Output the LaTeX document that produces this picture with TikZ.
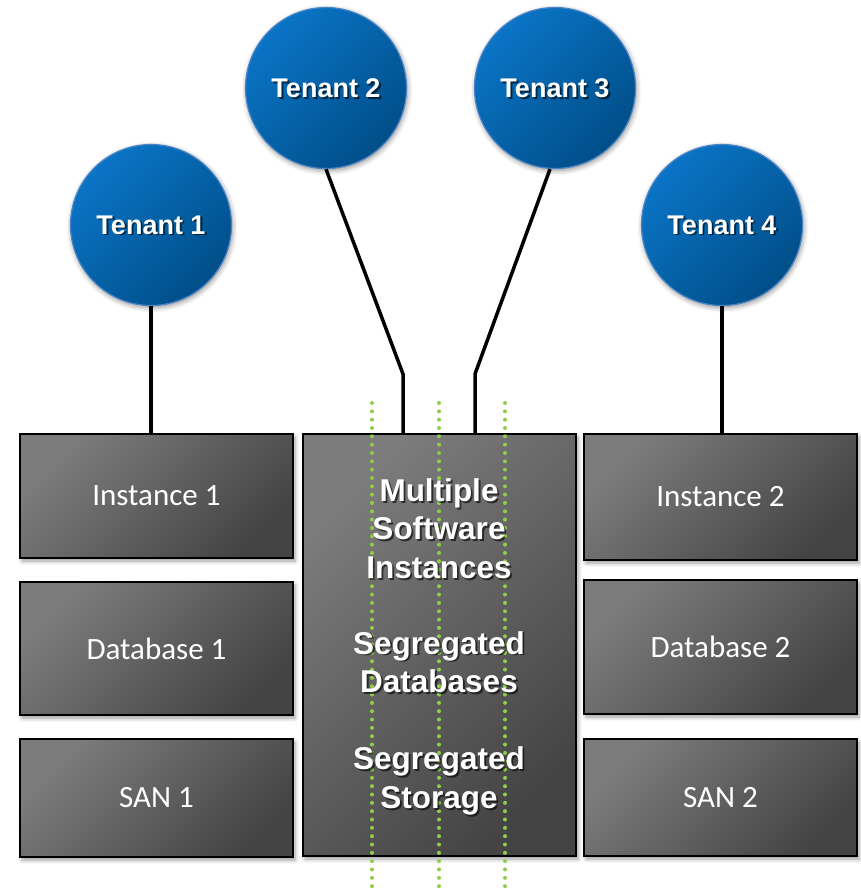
\documentclass[tikz,border=0pt]{standalone}
\usepackage{fontspec}
\setmainfont{Liberation Sans}
\newfontfamily\boxfont{Carlito}
\usetikzlibrary{shadows.blur}

\definecolor{tenantLight}{RGB}{10,116,198}
\definecolor{tenantDark}{RGB}{0,78,136}
\definecolor{tenantEdge}{RGB}{72,132,198}
\definecolor{blockLight}{RGB}{124,124,124}
\definecolor{blockDark}{RGB}{68,68,68}
\definecolor{dotgreen}{RGB}{140,208,72}

% text with a soft dark copy offset behind it
\newcommand\shadowtext[4]{%
  \node[#3, text=black, text opacity=0.6] (#1-shadow) at ([shift={(1.8,1.8)}]#2) {#4};
  \node[#3] (#1) at (#2) {#4};
}

\begin{document}
\begin{tikzpicture}[x=1pt,y=-1pt,
  tenant/.style={circle, minimum size=161pt, inner sep=0pt,
    draw=tenantEdge, line width=1.2pt,
    top color=tenantLight, bottom color=tenantDark, shading angle=45,
    blur shadow={shadow xshift=1pt, shadow yshift=-2pt,
      shadow blur radius=5pt, shadow opacity=45}},
  block/.style={rectangle, draw=black, line width=2.5pt, inner sep=0pt,
    top color=blockLight, bottom color=blockDark, shading angle=45,
    minimum width=273pt, text=white,
    font=\boxfont\fontsize{31}{38}\selectfont,
    blur shadow={shadow xshift=2pt, shadow yshift=-3pt,
      shadow blur radius=4pt, shadow opacity=40}},
  link/.style={line width=3.5pt, black},
  partition/.style={dotgreen, line width=4pt, line cap=round,
    dash pattern=on 0pt off 8.33pt},
  tenantlabel/.style={text=white, inner sep=0pt,
    font=\bfseries\fontsize{27}{32}\selectfont},
  midlabel/.style={text=white, inner sep=0pt, align=center,
    font=\bfseries\fontsize{31.5}{38.5}\selectfont},
]
\useasboundingbox (0,0) rectangle (860,889);

% tenants
\node[tenant] (t1) at (151,225) {};
\node[tenant] (t2) at (326,88) {};
\node[tenant] (t3) at (555,88) {};
\node[tenant] (t4) at (722,225) {};

% left stack
\node[block, minimum height=124pt] (inst1) at (156.5,496) {Instance 1};
\node[block, minimum height=133pt] (db1)   at (156.5,648.5) {Database 1};
\node[block, minimum height=118pt] (san1)  at (156.5,798) {SAN 1};

% shared middle column
\node[block, minimum height=422pt] (shared) at (439.5,645) {};

% right stack
\node[block, minimum height=126pt] (inst2) at (720.5,497) {Instance 2};
\node[block, minimum height=134pt] (db2)   at (720.5,647) {Database 2};
\node[block, minimum height=117pt] (san2)  at (720.5,797.5) {SAN 2};

% connectors
\coordinate (k2) at (403,374);
\coordinate (k3) at (475,374);
\draw[link] (t1.south) -- (t1.south |- inst1.north);
\draw[link] (t4.south) -- (t4.south |- inst2.north);
\draw[link, line join=miter] (t2.south) -- (k2) -- (k2 |- shared.north);
\draw[link, line join=miter] ([xshift=-5pt]t3.south) -- (k3) -- (k3 |- shared.north);

% partition lines through the shared column
\coordinate (p1) at (372,403);
\coordinate (p2) at (439,403);
\coordinate (p3) at (505,403);
\coordinate (q1) at (372,892);
\coordinate (q2) at (439,892);
\coordinate (q3) at (505,892);
\draw[partition] (p1) -- (q1);
\draw[partition] (p2) -- (q2);
\draw[partition] (p3) -- (q3);

% labels
\shadowtext{t1-label}{t1}{tenantlabel}{Tenant 1}
\shadowtext{t2-label}{t2}{tenantlabel}{Tenant 2}
\shadowtext{t3-label}{t3}{tenantlabel}{Tenant 3}
\shadowtext{t4-label}{t4}{tenantlabel}{Tenant 4}

\shadowtext{m1}{439,528.5}{midlabel}{Multiple\\Software\\Instances}
\shadowtext{m2}{439,662}{midlabel}{Segregated\\Databases}
\shadowtext{m3}{439,781}{midlabel}{Segregated\\Storage}
\end{tikzpicture}
\end{document}
